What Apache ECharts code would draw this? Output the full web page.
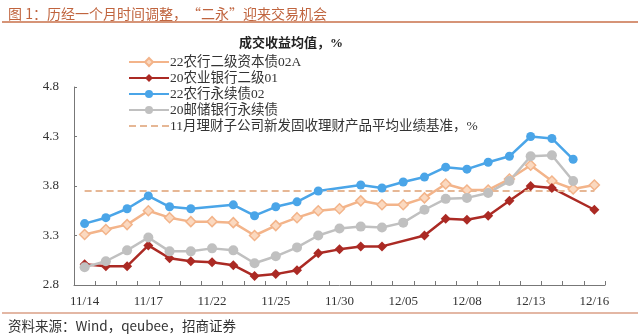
<!DOCTYPE html>
<html>
<head>
<meta charset="utf-8">
<script src="https://cdn.jsdelivr.net/npm/echarts@6/dist/echarts.min.js"></script>
<style>
html,body{margin:0;padding:0;background:#fff;}
#c{width:640px;height:336px;}
</style>
</head>
<body>
<div id="c"></div>
<script>
const categories = ['11/14','11/15','11/16','11/17','11/18','11/21','11/22','11/23','11/24','11/25','11/28','11/29','11/30','12/01','12/02','12/05','12/06','12/07','12/08','12/09','12/12','12/13','12/14','12/15','12/16'];
const seriesNames = ['22农行二级资本债02A','20农业银行二级01','22农行永续债02','20邮储银行永续债','11月理财子公司新发固收理财产品平均业绩基准，%'];
const bond22Tier2 = [3.31,3.36,3.41,3.55,3.48,3.44,3.44,3.43,3.30,3.40,3.48,3.55,3.57,3.65,3.61,3.61,3.68,3.82,3.76,3.76,3.87,4.01,3.85,3.77,3.81];
const bond20Tier2 = [3.01,2.99,2.99,3.20,3.07,3.04,3.03,3.00,2.89,2.91,2.95,3.12,3.16,3.19,3.19,null,3.30,3.47,3.46,3.50,3.65,3.80,3.78,null,3.56];
const bond22Perp = [3.42,3.48,3.57,3.70,3.59,3.57,null,3.61,3.50,3.59,3.64,3.75,null,3.81,3.78,3.84,3.89,3.99,3.97,4.04,4.10,4.30,4.28,4.07,null];
const bond20PsbcPerp = [2.98,3.04,3.15,3.28,3.14,3.14,3.17,3.15,3.02,3.09,3.18,3.30,3.37,3.39,3.38,3.43,3.56,3.67,3.68,3.73,3.85,4.10,4.11,3.85,null];
const benchmarkValue = 3.75;
const benchmark = categories.map(() => benchmarkValue);
const yTicks = [2.8, 3.3, 3.8, 4.3, 4.8];

const serif = "'Liberation Serif','Times New Roman','Noto Sans CJK SC',serif";
const sans = "'Noto Sans CJK SC','Liberation Sans',sans-serif";

const chart = echarts.init(document.getElementById('c'), null, {renderer:'canvas'});
chart.setOption({
  animation: false,
  backgroundColor: '#fff',
  title: [
    {text: '图 1：历经一个月时间调整，“二永”迎来交易机会', left: 3, top: 2,
     textStyle: {fontSize: 14, fontWeight: 'normal', color: '#c0643e', fontFamily: sans}},
    {text: '成交收益均值，%', left: 234, top: 32,
     textStyle: {fontSize: 13, fontWeight: 'bold', color: '#222', fontFamily: serif}},
    {text: '资料来源：Wind，qeubee，招商证券', left: 3, top: 314,
     textStyle: {fontSize: 13.5, fontWeight: 'normal', color: '#333', fontFamily: sans}}
  ],
  graphic: [
    {type: 'line', shape: {x1: 2, y1: 22, x2: 638, y2: 22}, style: {stroke: '#c8704a', lineWidth: 1.5}},
    {type: 'line', shape: {x1: 2, y1: 313, x2: 638, y2: 313}, style: {stroke: '#c8704a', lineWidth: 1.2}}
  ],
  legend: {
    orient: 'vertical', left: 123, top: 50,
    itemWidth: 40, itemHeight: 10, itemGap: 2,
    textStyle: {fontSize: 13.5, color: '#333', fontFamily: serif, lineHeight: 14, padding: [0,0,0,-4]},
    data: [
      seriesNames[0], seriesNames[1], seriesNames[2], seriesNames[3],
      {name: seriesNames[4], itemStyle: {opacity: 0}}
    ]
  },
  grid: {left: 74, right: 35, top: 87, bottom: 51},
  xAxis: {
    type: 'category', data: categories, boundaryGap: true,
    axisLine: {lineStyle: {color: '#777', width: 1}},
    axisTick: {show: true, inside: true, length: 4, interval: 0, lineStyle: {color: '#777'}},
    axisLabel: {interval: 2, margin: 10, fontSize: 13, color: '#333', fontFamily: serif}
  },
  yAxis: {
    type: 'value', min: yTicks[0], max: yTicks[yTicks.length-1], interval: 0.5,
    axisLine: {show: true, lineStyle: {color: '#777', width: 1}},
    axisTick: {show: true, inside: true, length: 3, lineStyle: {color: '#777'}},
    splitLine: {show: false},
    axisLabel: {margin: 15, fontSize: 13, color: '#333', fontFamily: serif,
      formatter: v => v.toFixed(1)}
  },
  series: [
    {name: seriesNames[0], type: 'line', data: bond22Tier2, connectNulls: true,
     symbol: 'diamond', symbolSize: 10,
     lineStyle: {color: '#f3b48a', width: 2.5},
     itemStyle: {color: '#fbd9c0', borderColor: '#f3b48a', borderWidth: 1.5}},
    {name: seriesNames[1], type: 'line', data: bond20Tier2, connectNulls: true,
     symbol: 'diamond', symbolSize: 10,
     lineStyle: {color: '#ab2a24', width: 2.5},
     itemStyle: {color: '#ab2a24'}},
    {name: seriesNames[2], type: 'line', data: bond22Perp, connectNulls: true,
     symbol: 'circle', symbolSize: 9,
     lineStyle: {color: '#4aa5e8', width: 2.5},
     itemStyle: {color: '#4aa5e8'}},
    {name: seriesNames[3], type: 'line', data: bond20PsbcPerp, connectNulls: true,
     symbol: 'circle', symbolSize: 10,
     lineStyle: {color: '#c0c0c0', width: 2.5},
     itemStyle: {color: '#c0c0c0'}},
    {name: seriesNames[4], type: 'line', data: benchmark, symbol: 'none',
     lineStyle: {color: '#e6b795', width: 2, type: [7, 4]},
     itemStyle: {color: '#e6b795'}}
  ]
});
</script>
</body>
</html>
